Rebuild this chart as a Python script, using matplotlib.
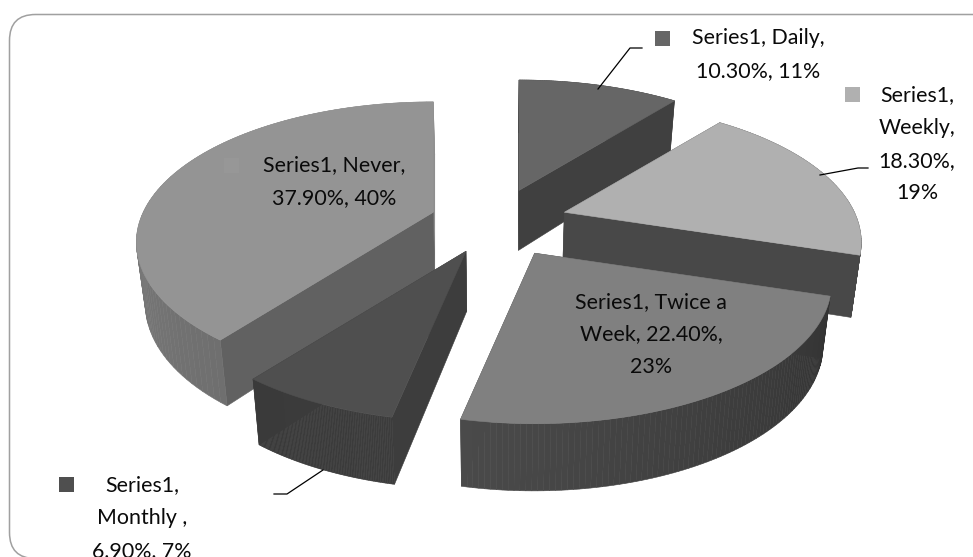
import numpy as np
import matplotlib
matplotlib.use("Agg")
import matplotlib.pyplot as plt
from matplotlib.patches import FancyBboxPatch

# ---- data ----
categories = ["Daily", "Weekly", "Twice a Week", "Monthly", "Never"]
percent = [10.3, 18.3, 22.4, 6.9, 37.9]
share = [11, 19, 23, 7, 40]
series = "Series1"

# ---- style ----
explode = [0.25, 0.25, 0.27, 0.24, 0.225]
top_col = ["#666666", "#b0b0b0", "#808080", "#4f4f4f", "#949494"]
rim_col = [("#404040", "#404040"), ("#484848", "#484848"), ("#333333", "#4a4a4a"),
           ("#3c3c3c", "#3a3a3a"), ("#6f6f6f", "#8e8e8e")]
face_col = [("#404040", "#404040"), ("#484848", "#484848"), ("#4a4a4a", "#4a4a4a"),
            ("#3d3d3d", "#3d3d3d"), ("#616161", "#808080")]
draw_order = [0, 4, 1, 3, 2]
CX, CY, R, K, P, H = 495.0, 222.0, 290.0, 134.0 / 290.0, 0.214, 60.0

fig = plt.figure(figsize=(9.73, 5.57), dpi=100)
ax = fig.add_axes([0, 0, 1, 1])
ax.set_xlim(0, 973)
ax.set_ylim(557, 0)
ax.axis("off")

ax.add_patch(FancyBboxPatch((9.5 + 26, 14.5 + 26), 960, 492, boxstyle="round,pad=26,rounding_size=26",
                            fc="white", ec="#a0a0a0", lw=1.1, clip_on=True))

pct = np.array(percent)
edges = np.concatenate([[0], np.cumsum(pct) / pct.sum() * 2 * np.pi])


def project(theta, apex, lower=False):
    x, y = np.sin(theta), -np.cos(theta)
    s = 1.0 / (1.0 - P * y)
    px = apex[0] + R * x * s
    py = apex[1] + R * K * y * s
    if lower:
        return vanish(px, py, y)
    return px, py


def vanish(px, py, y):
    return px - 0.025 * (px - CX), py + H * (1 + 0.12 * y)


def poly(xs, ys, c):
    ax.fill(xs, ys, facecolor=c, edgecolor=c, lw=0.4, zorder=2)


def mix(a, b, t):
    ca = np.array(matplotlib.colors.to_rgb(a))
    cb = np.array(matplotlib.colors.to_rgb(b))
    return tuple(ca + (cb - ca) * t)


for i in draw_order:
    t0, t1 = edges[i], edges[i + 1]
    mid = (t0 + t1) / 2
    apex = (CX + explode[i] * R * np.sin(mid), CY - explode[i] * R * K * np.cos(mid))
    apex_low = vanish(apex[0], apex[1], 0.0)
    th = np.linspace(t0, t1, 90)
    # radial faces
    for t, c in ((t1, face_col[i][1]), (t0, face_col[i][0])):
        a = project(t, apex)
        b = project(t, apex, True)
        poly([apex[0], a[0], b[0], apex_low[0]], [apex[1], a[1], b[1], apex_low[1]], c)
    # rim, shaded along its length
    for j in range(len(th) - 1):
        a0, a1 = project(th[j], apex), project(th[j + 1], apex)
        b0, b1 = project(th[j], apex, True), project(th[j + 1], apex, True)
        c = mix(rim_col[i][0], rim_col[i][1], j / (len(th) - 2))
        poly([a0[0], a1[0], b1[0], b0[0]], [a0[1], a1[1], b1[1], b0[1]], c)
    # top
    xs, ys = project(th, apex)
    poly(np.r_[apex[0], xs], np.r_[apex[1], ys], top_col[i])

# ---- labels ----
FS = 15.4
FONT = "Lato"
TXT = "#0a0a0a"


def label(cx, ys, lines):
    for y, s in zip(ys, lines):
        ax.text(cx, y, s, ha="center", va="center", fontsize=FS, family=FONT, color=TXT, zorder=5)


def pair(i):
    return f"{percent[i]:.2f}%", f"{share[i]}%"


p, s = pair(0)
label(758, [38, 71], [f"{series}, {categories[0]},", f"{p}, {s}"])
p, s = pair(1)
label(917, [95, 128, 161, 193], [f"{series},", f"{categories[1]},", f"{p},", s])
p, s = pair(2)
label(651, [302, 334, 367], [f"{series}, Twice a", f"Week, {p},", s])
p, s = pair(3)
label(142, [485, 518, 551], [f"{series},", f"{categories[3]} ,", f"{p}, {s}"])
p, s = pair(4)
label(334, [165, 198], [f"{series}, {categories[4]},", f"{p}, {s}"])

# legend keys
for x, y, c in ((655, 31, top_col[0]), (845, 87, top_col[1]), (59, 477, top_col[3]), (224, 158, "#979797")):
    ax.fill([x, x + 15, x + 15, x], [y, y, y + 15, y + 15], color=c, lw=0, zorder=4)

# leader lines
for xs, ys in (([598, 630, 642], [89, 48, 48]),
               ([820, 858, 868], [175, 168, 168]),
               ([323, 287, 274], [470, 494, 494])):
    ax.plot(xs, ys, color="black", lw=0.9, zorder=4)

fig.savefig("out.png", dpi=100)
